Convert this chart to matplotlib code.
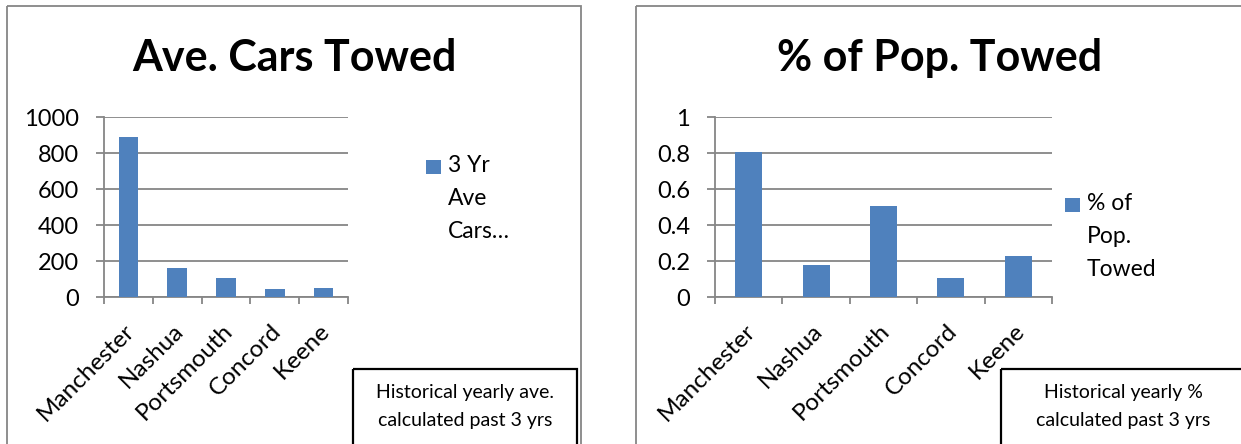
import matplotlib.pyplot as plt
import matplotlib.transforms as mtransforms
from matplotlib.patches import Rectangle
import numpy as np

plt.rcParams['font.family'] = ['Lato', 'DejaVu Sans']

# data
cities = ['Manchester', 'Nashua', 'Portsmouth', 'Concord', 'Keene']
ave_cars_towed = [889, 163, 107, 46, 52]
pct_pop_towed = [0.807, 0.178, 0.507, 0.107, 0.228]
cars_ticks = [0, 200, 400, 600, 800, 1000]
cars_labels = ['0', '200', '400', '600', '800', '1000']
pct_ticks = [0, 0.2, 0.4, 0.6, 0.8, 1.0]
pct_labels = ['0', '0.2', '0.4', '0.6', '0.8', '1']

W, H = 1241, 444
fig = plt.figure(figsize=(W / 100, H / 100), dpi=100)
# pixel coords, origin top-left
px = mtransforms.Affine2D().scale(1 / W, -1 / H).translate(0, 1) + fig.transFigure

GRID = '#868686'
BLUE = '#4F81BD'


def panel(x0, x1, ax_l, ax_r, title, title_x, values, ticks, labels,
          leg_x, leg_text, leg_y, box_x0, box_x1, note_x, note):
    # chart frame
    fig.add_artist(Rectangle((x0, 6), x1 - x0, 600, transform=px, fill=False,
                             ec=GRID, lw=1.3))
    fig.text(title_x, 71, title, transform=px, ha='center', va='baseline',
             fontsize=31, fontweight='bold')

    ax = fig.add_axes([ax_l / W, 1 - 297 / H, (ax_r - ax_l) / W, 180 / H])
    x = np.arange(len(values))
    ax.bar(x, values, width=0.4, color=BLUE, zorder=3)
    ax.set_xlim(-0.5, len(values) - 0.5)
    ax.set_ylim(ticks[0], ticks[-1])
    ax.set_yticks(ticks)
    ax.set_yticklabels(labels)
    ax.yaxis.grid(True, color=GRID, lw=1.3)
    ax.set_axisbelow(True)
    for s in ['top', 'right']:
        ax.spines[s].set_visible(False)
    for s in ['left', 'bottom']:
        ax.spines[s].set_color(GRID)
        ax.spines[s].set_linewidth(1.3)
    ax.tick_params(axis='y', length=6, width=1.3, color=GRID, pad=12,
                   labelsize=17)
    ax.set_xticks(np.arange(len(values) + 1) - 0.5)
    ax.set_xticklabels([])
    ax.tick_params(axis='x', which='major', length=5, width=1.3, color=GRID)
    ax.set_xticks(x, minor=True)
    ax.set_xticklabels(cities, minor=True, rotation=45, ha='right',
                       va='center', rotation_mode='anchor', fontsize=17.5)
    ax.tick_params(axis='x', which='minor', length=0, pad=22)
    shift = mtransforms.ScaledTranslation(3 / 100, 0, fig.dpi_scale_trans)
    for lab in ax.get_xticklabels(minor=True):
        lab.set_transform(lab.get_transform() + shift)

    # legend
    fig.add_artist(Rectangle((leg_x, leg_y - 14), 15, 14, transform=px,
                             fc=BLUE, ec='none'))
    fig.text(leg_x + 22, leg_y + 64, leg_text, transform=px, ha='left',
             va='baseline', fontsize=16.5, linespacing=1.7)

    # note box
    fig.add_artist(Rectangle((box_x0, 369), box_x1 - box_x0, 200,
                             transform=px, fill=False, ec='black', lw=1.6))
    fig.text(note_x, 426, note, transform=px, ha='center',
             va='baseline', fontsize=14, linespacing=1.8)
    return ax


panel(7, 581, 104, 348, 'Ave. Cars Towed', 294, ave_cars_towed,
      cars_ticks, cars_labels, 426, '3 Yr\nAve\nCars…', 174, 353, 577, 465,
      'Historical yearly ave.\ncalculated past 3 yrs')
panel(636, 1300, 715, 1052, '% of Pop. Towed', 940, pct_pop_towed,
      pct_ticks, pct_labels, 1065, '% of\nPop.\nTowed', 212, 1001, 1300, 1123,
      'Historical yearly %\ncalculated past 3 yrs')

fig.savefig('out.png', dpi=100)
